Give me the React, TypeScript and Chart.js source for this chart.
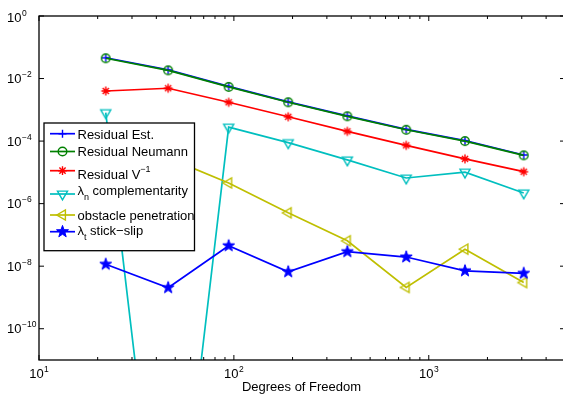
import React, { useEffect, useRef } from 'react';
import { Chart, registerables } from 'chart.js';

Chart.register(...registerables);

// ---- data ----
const dof = [22, 46, 94, 190, 382, 766, 1534, 3070];
const residualEst = [0.0462, 0.0189, 5.6e-3, 1.8e-3, 6.4e-4, 2.38e-4, 1.03e-4, 3.6e-5];
const residualNeumann = [0.0445, 0.0183, 5.4e-3, 1.74e-3, 6.2e-4, 2.3e-4, 1.0e-4, 3.5e-5];
const residualVinv = [4.0e-3, 4.9e-3, 1.74e-3, 6.0e-4, 2.05e-4, 7.3e-5, 2.7e-5, 1.05e-5];
const lambdaNCompl = [8.1e-4, 1e-20, 2.8e-4, 8.9e-5, 2.5e-5, 6.6e-6, 1.02e-5, 2.2e-6];
const obstaclePen = [1.5e-4, 2.9e-5, 4.6e-6, 5.1e-7, 6.5e-8, 2.1e-9, 3.5e-8, 3.0e-9];
const lambdaTStick = [1.15e-8, 2.05e-9, 4.5e-8, 6.6e-9, 2.9e-8, 1.96e-8, 7.1e-9, 5.9e-9];

const xMin = 10;
const xMax = 5000;
const yMin = 1e-11;
const yMax = 1;
const xMajorTicks = [10, 100, 1000];
const xTickExps = ['1', '2', '3'];
const yMajorTicks = [1, 1e-2, 1e-4, 1e-6, 1e-8, 1e-10];
const yTickExps = ['0', '\u22122', '\u22124', '\u22126', '\u22128', '\u221210'];
const xAxisLabel = 'Degrees of Freedom';

type Piece = { t: string; kind?: 'sup' | 'sub' };
const legendLabels: Piece[][] = [
  [{ t: 'Residual Est.' }],
  [{ t: 'Residual Neumann' }],
  [{ t: 'Residual V' }, { t: '\u22121', kind: 'sup' }],
  [{ t: '\u03bb' }, { t: 'n', kind: 'sub' }, { t: ' complementarity' }],
  [{ t: 'obstacle penetration' }],
  [{ t: '\u03bb' }, { t: 't', kind: 'sub' }, { t: ' stick\u2212slip' }],
];

const FONT = '"Liberation Sans", Arial, Helvetica, sans-serif';
const BLUE = '#0000ff';
const GREEN = '#008000';
const RED = '#ff0000';
const CYAN = '#00bfbf';
const YELLOW = '#bfbf00';

type MarkerKind = 'plus' | 'circle' | 'asterisk' | 'triDown' | 'triLeft' | 'penta';

function drawMarker(ctx: CanvasRenderingContext2D, kind: MarkerKind, x: number, y: number, color: string) {
  ctx.save();
  ctx.strokeStyle = color;
  ctx.fillStyle = color;
  ctx.lineWidth = 1.4;
  ctx.beginPath();
  if (kind === 'plus') {
    ctx.moveTo(x - 4, y); ctx.lineTo(x + 4, y);
    ctx.moveTo(x, y - 4); ctx.lineTo(x, y + 4);
    ctx.stroke();
  } else if (kind === 'circle') {
    ctx.arc(x, y, 4.3, 0, Math.PI * 2);
    ctx.stroke();
  } else if (kind === 'asterisk') {
    const r = 4.4;
    for (let k = 0; k < 4; k++) {
      const a = (k * Math.PI) / 4;
      ctx.moveTo(x - r * Math.cos(a), y - r * Math.sin(a));
      ctx.lineTo(x + r * Math.cos(a), y + r * Math.sin(a));
    }
    ctx.stroke();
  } else if (kind === 'triDown' || kind === 'triLeft') {
    const r = 5.8;
    const base = kind === 'triDown' ? Math.PI : -Math.PI / 2;
    for (let k = 0; k < 3; k++) {
      const a = base + (k * 2 * Math.PI) / 3;
      const px = x + Math.sin(a) * r;
      const py = y - Math.cos(a) * r;
      if (k === 0) ctx.moveTo(px, py); else ctx.lineTo(px, py);
    }
    ctx.closePath();
    ctx.stroke();
  } else if (kind === 'penta') {
    const R = 6.3, r = 2.5;
    for (let k = 0; k < 10; k++) {
      const a = -Math.PI / 2 + (k * Math.PI) / 5;
      const rr = k % 2 === 0 ? R : r;
      const px = x + rr * Math.cos(a);
      const py = y + rr * Math.sin(a);
      if (k === 0) ctx.moveTo(px, py); else ctx.lineTo(px, py);
    }
    ctx.closePath();
    ctx.fill();
    ctx.lineWidth = 1;
    ctx.stroke();
  }
  ctx.restore();
}

function makeMarkerImage(kind: MarkerKind, color: string): HTMLCanvasElement {
  const c = document.createElement('canvas');
  c.width = 18;
  c.height = 18;
  const cx = c.getContext('2d')!;
  drawMarker(cx, kind, 9, 9, color);
  return c;
}

const seriesDefs: { label: string; values: number[]; color: string; marker: MarkerKind }[] = [
  { label: 'Residual Est.', values: residualEst, color: BLUE, marker: 'plus' },
  { label: 'Residual Neumann', values: residualNeumann, color: GREEN, marker: 'circle' },
  { label: 'Residual V^-1', values: residualVinv, color: RED, marker: 'asterisk' },
  { label: 'lambda_n complementarity', values: lambdaNCompl, color: CYAN, marker: 'triDown' },
  { label: 'obstacle penetration', values: obstaclePen, color: YELLOW, marker: 'triLeft' },
  { label: 'lambda_t stick-slip', values: lambdaTStick, color: BLUE, marker: 'penta' },
];

function drawRich(ctx: CanvasRenderingContext2D, pieces: Piece[], x: number, baseline: number, size: number, small: number) {
  let cx = x;
  for (const p of pieces) {
    let yy = baseline;
    if (p.kind === 'sup') { ctx.font = `${small}px ${FONT}`; yy = baseline - 7; }
    else if (p.kind === 'sub') { ctx.font = `${small}px ${FONT}`; yy = baseline + 4.5; }
    else ctx.font = `${size}px ${FONT}`;
    ctx.fillText(p.t, cx, yy);
    cx += ctx.measureText(p.t).width;
  }
  return cx - x;
}

const overlayPlugin = {
  id: 'matlabOverlay',
  afterDraw(chart: any) {
    const ctx: CanvasRenderingContext2D = chart.ctx;
    const { left, right, top, bottom } = chart.chartArea;
    const xs = chart.scales.x;
    const ys = chart.scales.y;
    ctx.save();
    ctx.strokeStyle = '#000';
    ctx.fillStyle = '#000';
    ctx.lineWidth = 1.3;
    // frame
    ctx.strokeRect(left, top, right - left, bottom - top);

    // x ticks (major + minor), bottom & top, inward
    ctx.lineWidth = 1;
    ctx.beginPath();
    for (let d = 10; d < xMax; d *= 10) {
      for (let m = 1; m < 10; m++) {
        const v = d * m;
        if (v < xMin || v >= xMax) continue;
        const px = xs.getPixelForValue(v);
        const len = m === 1 ? 5 : 3;
        ctx.moveTo(px, bottom); ctx.lineTo(px, bottom - len);
        ctx.moveTo(px, top); ctx.lineTo(px, top + len);
      }
    }
    // y ticks left & right
    for (const v of yMajorTicks) {
      const py = ys.getPixelForValue(v);
      ctx.moveTo(left, py); ctx.lineTo(left + 5, py);
      ctx.moveTo(right, py); ctx.lineTo(right - 5, py);
    }
    ctx.stroke();

    // y tick labels
    ctx.textAlign = 'left';
    ctx.textBaseline = 'alphabetic';
    yMajorTicks.forEach((v, i) => {
      const py = ys.getPixelForValue(v);
      const off = i === 0 ? 1.5 : 0;
      ctx.font = `13px ${FONT}`;
      ctx.fillText('10', 7, py + 4.5 + off);
      const w = ctx.measureText('10').width;
      ctx.font = `8.5px ${FONT}`;
      ctx.fillText(yTickExps[i], 7 + w + 0.5, py - 1.5 + off);
    });

    // x tick labels
    xMajorTicks.forEach((v, i) => {
      const px = xs.getPixelForValue(v);
      ctx.font = `13px ${FONT}`;
      const w1 = ctx.measureText('10').width;
      ctx.font = `8.5px ${FONT}`;
      const w2 = ctx.measureText(xTickExps[i]).width;
      const start = px - (w1 + w2 + 0.5) / 2;
      ctx.font = `13px ${FONT}`;
      ctx.fillText('10', start, 378);
      ctx.font = `8.5px ${FONT}`;
      ctx.fillText(xTickExps[i], start + w1 + 0.5, 372);
    });

    // x axis title
    ctx.font = `13px ${FONT}`;
    ctx.textAlign = 'center';
    ctx.fillText(xAxisLabel, 301.5, 391);

    // legend box
    const bx = 44, by = 123, bw = 150.5, bh = 127.7;
    ctx.fillStyle = '#fff';
    ctx.fillRect(bx, by, bw, bh);
    ctx.strokeStyle = '#000';
    ctx.lineWidth = 1.3;
    ctx.strokeRect(bx, by, bw, bh);
    const lineYs = [133.7, 151.5, 170.7, 194, 215, 231.7];
    const textBase = [138.5, 156.3, 178.5, 195, 220, 235];
    ctx.textAlign = 'left';
    seriesDefs.forEach((s, i) => {
      const ly = lineYs[i];
      ctx.strokeStyle = s.color;
      ctx.lineWidth = 1.7;
      ctx.beginPath();
      ctx.moveTo(50, ly);
      ctx.lineTo(75, ly);
      ctx.stroke();
      drawMarker(ctx, s.marker, 62.5, ly, s.color);
      ctx.fillStyle = '#000';
      drawRich(ctx, legendLabels[i], 77.5, textBase[i], 13, 9);
    });
    ctx.restore();
  },
};

export default function App() {
  const ref = useRef<HTMLCanvasElement>(null);
  useEffect(() => {
    const datasets = seriesDefs.map((s, i) => ({
      label: s.label,
      data: dof.map((x, k) => ({ x, y: s.values[k] })),
      borderColor: s.color,
      backgroundColor: s.color,
      borderWidth: 1.7,
      pointStyle: makeMarkerImage(s.marker, s.color) as any,
      pointRadius: 6,
      fill: false,
      tension: 0,
      order: 10 - i,
    }));
    const chart = new Chart(ref.current!, {
      type: 'line',
      data: { datasets },
      options: {
        animation: false,
        responsive: false,
        maintainAspectRatio: false,
        devicePixelRatio: 1,
        events: [],
        layout: { autoPadding: false, padding: { left: 39, top: 16, right: 1, bottom: 41 } },
        plugins: { legend: { display: false }, tooltip: { enabled: false } },
        scales: {
          x: { type: 'logarithmic', min: xMin, max: xMax, display: false },
          y: { type: 'logarithmic', min: yMin, max: yMax, display: false },
        },
      },
      plugins: [overlayPlugin],
    } as any);
    return () => chart.destroy();
  }, []);
  return (
    <div style={{ position: 'absolute', left: 0, top: 0, width: 563, height: 401, overflow: 'hidden', background: '#fff' }}>
      <canvas ref={ref} width={566} height={401} style={{ display: 'block', width: 566, height: 401 }} />
    </div>
  );
}
